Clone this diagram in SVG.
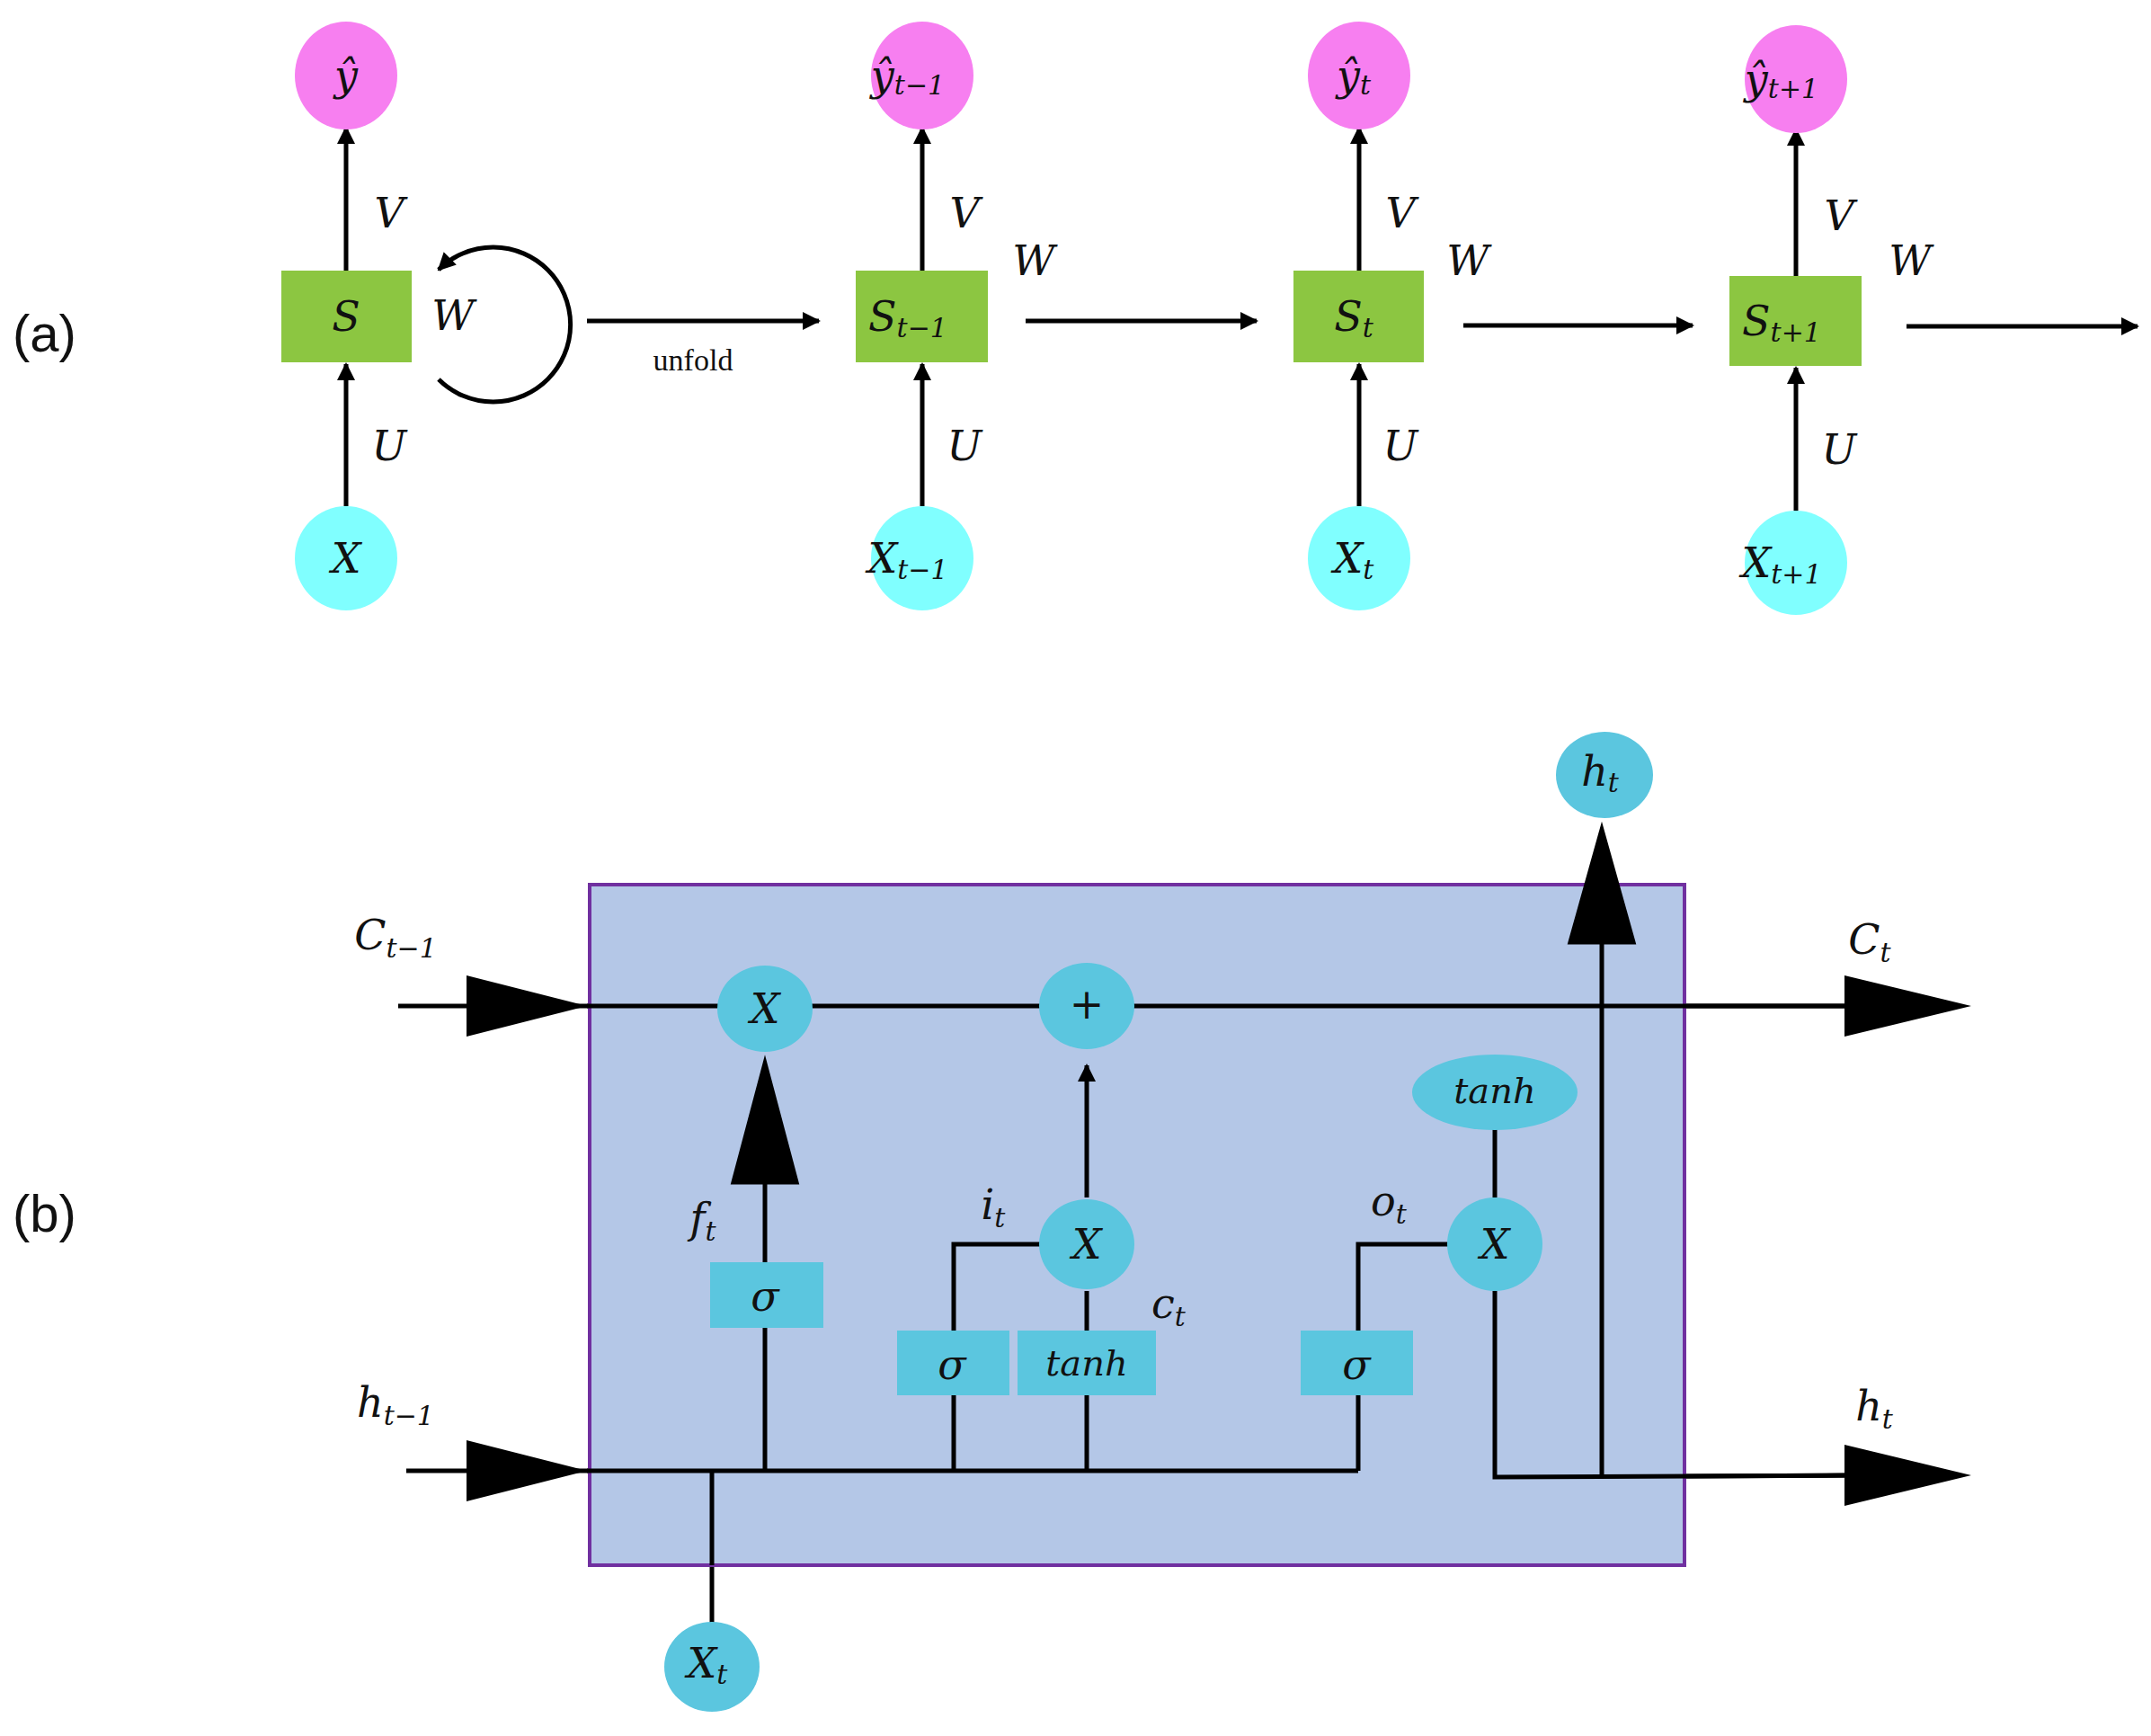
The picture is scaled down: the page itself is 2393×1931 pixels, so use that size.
<svg xmlns="http://www.w3.org/2000/svg" width="2393" height="1931" viewBox="0 0 2393 1931">
<style>
text{font-family:"DejaVu Serif","Liberation Serif",serif;font-style:italic;fill:#111;}
.m{font-size:46px;text-anchor:middle;dominant-baseline:central}
.s{font-size:30px}
.lab{font-family:"Liberation Sans",Arial,sans-serif;font-style:normal;font-size:58px}
.ln{stroke:#000;stroke-width:5;fill:none}
.pk{fill:#f77ff0}.cy{fill:#80ffff}.gr{fill:#8cc641}.bl{fill:#5bc6df}
</style>
<defs>
<marker id="a" viewBox="0 0 10 10" refX="9" refY="5" markerWidth="4" markerHeight="4" orient="auto" markerUnits="strokeWidth"><path d="M0,0L10,5L0,10z"/></marker>
</defs>
<rect width="2393" height="1931" fill="#fff"/>
<text class="lab" x="14" y="391">(a)</text>
<text class="lab" x="14" y="1370">(b)</text>
<g id="connectors">
<g class="ln" marker-end="url(#a)">
<line x1="385" y1="301" x2="385" y2="142"/><line x1="385" y1="563" x2="385" y2="405"/>
<line x1="1026" y1="301" x2="1026" y2="142"/><line x1="1026" y1="563" x2="1026" y2="405"/>
<line x1="1512" y1="301" x2="1512" y2="142"/><line x1="1512" y1="563" x2="1512" y2="405"/>
<line x1="1998" y1="307" x2="1998" y2="144"/><line x1="1998" y1="568" x2="1998" y2="409"/>
<line x1="653" y1="357" x2="911" y2="357"/><line x1="1141" y1="357" x2="1398" y2="357"/>
<line x1="1628" y1="362" x2="1883" y2="362"/><line x1="2121" y1="363" x2="2378" y2="363"/>
<path d="M488,422 A86,86 0 1 0 488,300"/>
<line x1="1209" y1="1332" x2="1209" y2="1175"/>
</g>
<g class="ln">
<line x1="443" y1="1119" x2="2060" y2="1119"/>
<line x1="452" y1="1636" x2="1511" y2="1636"/>
<polyline points="1511,1636 1511,1384 1620,1384"/>
<polyline points="1663,1436 1663,1643 2060,1641"/>
<line x1="1663" y1="1255" x2="1663" y2="1332"/>
<line x1="1782" y1="1643" x2="1782" y2="1040"/>
<line x1="851" y1="1636" x2="851" y2="1300"/>
<polyline points="1061,1636 1061,1384 1160,1384"/>
<line x1="1209" y1="1636" x2="1209" y2="1436"/>
<line x1="792" y1="1636" x2="792" y2="1810"/>
</g>
<g fill="#000">
<polygon points="519,1085 653,1119 519,1153"/>
<polygon points="519,1602 653,1636 519,1670"/>
<polygon points="2052,1085 2193,1119 2052,1153"/>
<polygon points="2052,1607 2193,1641 2052,1675"/>
<polygon points="816,1315 851,1183 886,1315"/>
<polygon points="1747,1048 1782,923 1817,1048"/>
</g>
</g>
<g id="y0"><ellipse class="pk" cx="385" cy="84" rx="57" ry="60"/><text class="m" x="385" y="84">ŷ</text></g>
<g id="y1"><ellipse class="pk" cx="1026" cy="84" rx="57" ry="60"/><text class="m" x="1010" y="84">ŷ<tspan class="s" dy="10">t−1</tspan></text></g>
<g id="y2"><ellipse class="pk" cx="1512" cy="84" rx="57" ry="60"/><text class="m" x="1506" y="84">ŷ<tspan class="s" dy="10">t</tspan></text></g>
<g id="y3"><ellipse class="pk" cx="1998" cy="88" rx="57" ry="60"/><text class="m" x="1982" y="88">ŷ<tspan class="s" dy="10">t+1</tspan></text></g>
<g id="s0"><rect class="gr" x="313" y="301" width="145" height="102"/><text class="m" x="385" y="352">S</text></g>
<g id="s1"><rect class="gr" x="952" y="301" width="147" height="102"/><text class="m" x="1010" y="352">S<tspan class="s" dy="12">t−1</tspan></text></g>
<g id="s2"><rect class="gr" x="1439" y="301" width="145" height="102"/><text class="m" x="1506" y="352">S<tspan class="s" dy="12">t</tspan></text></g>
<g id="s3"><rect class="gr" x="1924" y="307" width="147" height="100"/><text class="m" x="1982" y="357">S<tspan class="s" dy="12">t+1</tspan></text></g>
<g id="x0"><ellipse class="cy" cx="385" cy="621" rx="57" ry="58"/><text class="m" x="385" y="621">X</text></g>
<g id="x1"><ellipse class="cy" cx="1026" cy="621" rx="57" ry="58"/><text class="m" x="1010" y="621">X<tspan class="s" dy="12">t−1</tspan></text></g>
<g id="x2"><ellipse class="cy" cx="1512" cy="621" rx="57" ry="58"/><text class="m" x="1506" y="621">X<tspan class="s" dy="12">t</tspan></text></g>
<g id="x3"><ellipse class="cy" cx="1998" cy="626" rx="57" ry="58"/><text class="m" x="1982" y="626">X<tspan class="s" dy="12">t+1</tspan></text></g>
<g id="labelsA">
<text class="m" x="433" y="237">V</text><text class="m" x="433" y="496">U</text><text class="m" x="504" y="351">W</text>
<text class="m" x="1073" y="237">V</text><text class="m" x="1073" y="496">U</text><text class="m" x="1150" y="290">W</text>
<text class="m" x="1558" y="237">V</text><text class="m" x="1558" y="496">U</text><text class="m" x="1633" y="290">W</text>
<text class="m" x="2046" y="240">V</text><text class="m" x="2046" y="500">U</text><text class="m" x="2125" y="290">W</text>
<text x="771" y="412" style="font-family:'Liberation Serif',serif;font-style:normal;font-size:34px;text-anchor:middle">unfold</text>
</g>
<g id="cell"><rect x="656" y="984" width="1218" height="757" fill="#b4c7e7" stroke="#7030a0" stroke-width="4"/></g>
<g class="ln">
<line x1="653" y1="1119" x2="2060" y2="1119"/>
<line x1="653" y1="1636" x2="1511" y2="1636"/>
<polyline points="1511,1636 1511,1384 1620,1384"/>
<polyline points="1663,1436 1663,1643 2060,1641"/>
<line x1="1663" y1="1255" x2="1663" y2="1332"/>
<line x1="1782" y1="1643" x2="1782" y2="1040"/>
<line x1="851" y1="1636" x2="851" y2="1300"/>
<polyline points="1061,1636 1061,1384 1160,1384"/>
<line x1="1209" y1="1636" x2="1209" y2="1436"/>
<line x1="1209" y1="1332" x2="1209" y2="1185" marker-end="url(#a)"/>
<line x1="792" y1="1636" x2="792" y2="1741"/>
<polygon points="816,1315 851,1183 886,1315" fill="#000"/>
<polygon points="1747,1048 1782,923 1817,1048" fill="#000"/>
</g>
<g id="mulf"><ellipse class="bl" cx="851" cy="1122" rx="53" ry="48"/><text class="m" x="851" y="1122">X</text></g>
<g id="plus"><ellipse class="bl" cx="1209" cy="1119" rx="53" ry="48"/><text class="m" x="1209" y="1117" style="font-style:normal">+</text></g>
<g id="sigf"><rect class="bl" x="790" y="1404" width="126" height="73"/><text class="m" x="851" y="1442">σ</text></g>
<g id="sigi"><rect class="bl" x="998" y="1480" width="125" height="72"/><text class="m" x="1059" y="1518">σ</text></g>
<g id="tanh1"><rect class="bl" x="1132" y="1480" width="154" height="72"/><text class="m" x="1209" y="1516" style="font-size:40px">tanh</text></g>
<g id="muli"><ellipse class="bl" cx="1209" cy="1384" rx="53" ry="50"/><text class="m" x="1209" y="1384">X</text></g>
<g id="sigo"><rect class="bl" x="1447" y="1480" width="125" height="72"/><text class="m" x="1509" y="1518">σ</text></g>
<g id="tanh2"><ellipse class="bl" cx="1663" cy="1215" rx="92" ry="42"/><text class="m" x="1663" y="1213" style="font-size:40px">tanh</text></g>
<g id="mulo"><ellipse class="bl" cx="1663" cy="1384" rx="53" ry="52"/><text class="m" x="1663" y="1384">X</text></g>
<g id="ht"><ellipse class="bl" cx="1785" cy="862" rx="54" ry="48"/><text class="m" x="1780" y="858">h<tspan class="s" dy="12">t</tspan></text></g>
<g id="xt"><ellipse class="bl" cx="792" cy="1854" rx="53" ry="50"/><text class="m" x="787" y="1850">X<tspan class="s" dy="12">t</tspan></text></g>
<g id="labelsB">
<text class="m" x="440" y="1040">C<tspan class="s" dy="14">t−1</tspan></text>
<text class="m" x="440" y="1560">h<tspan class="s" dy="14">t−1</tspan></text>
<text class="m" x="2080" y="1045">C<tspan class="s" dy="14">t</tspan></text>
<text class="m" x="2085" y="1564">h<tspan class="s" dy="14">t</tspan></text>
<text class="m" x="782" y="1355">f<tspan class="s" dy="14">t</tspan></text>
<text class="m" x="1105" y="1340">i<tspan class="s" dy="14">t</tspan></text>
<text class="m" x="1300" y="1450">c<tspan class="s" dy="14">t</tspan></text>
<text class="m" x="1545" y="1336">o<tspan class="s" dy="14">t</tspan></text>
</g>
</svg>
